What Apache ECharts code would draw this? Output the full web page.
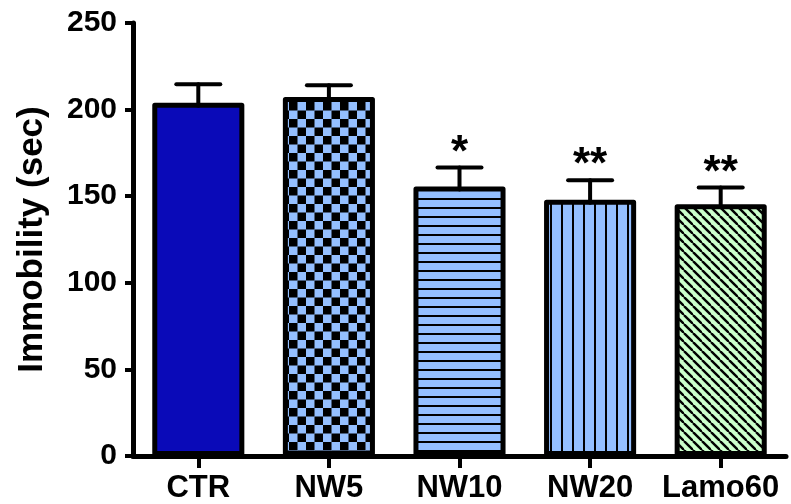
<!DOCTYPE html>
<html>
<head>
<meta charset="utf-8">
<script src="https://cdn.jsdelivr.net/npm/echarts@6/dist/echarts.min.js"></script>
<style>
html,body{margin:0;padding:0;background:#fff;}
#c{width:791px;height:504px;}
</style>
</head>
<body>
<div id="c"></div>
<script>
const categories = ['CTR', 'NW5', 'NW10', 'NW20', 'Lamo60'];
const means = [204, 207.3, 155.6, 147.9, 145.4];
const sems = [10.7, 6.7, 10.9, 11.3, 9.6];
const stars = ['', '', '*', '**', '**'];
const yMin = 0, yMax = 250, yInterval = 50;

const LB = '#94bfff';
const GREEN = '#ccffcc';
const FONT = '"Liberation Sans", Arial, sans-serif';

function mk(w, h, draw) {
  const c = document.createElement('canvas');
  c.width = w; c.height = h;
  const g = c.getContext('2d');
  draw(g, w, h);
  return c;
}
const checker = mk(17, 17, (g, w, h) => {
  g.fillStyle = LB; g.fillRect(0, 0, w, h);
  g.fillStyle = '#000';
  g.fillRect(0, 0, 8.5, 8.5);
  g.fillRect(8.5, 8.5, 8.5, 8.5);
});
const hlines = mk(9, 9, (g, w, h) => {
  g.fillStyle = LB; g.fillRect(0, 0, w, h);
  g.fillStyle = '#000'; g.fillRect(0, 0, w, 2);
});
const vlines = mk(11, 11, (g, w, h) => {
  g.fillStyle = LB; g.fillRect(0, 0, w, h);
  g.fillStyle = '#000'; g.fillRect(0, 0, 2, h);
});
const diag = mk(9, 9, (g, s) => {
  g.fillStyle = GREEN; g.fillRect(0, 0, s, s);
  g.strokeStyle = '#000'; g.lineWidth = 2.4;
  for (let k = -1; k <= 1; k++) {
    g.beginPath(); g.moveTo(k * s, 0); g.lineTo(k * s + s, s); g.stroke();
  }
});
const fills = ['#0a0ab8', {image: checker, repeat: 'repeat'}, {image: hlines, repeat: 'repeat'},
  {image: vlines, repeat: 'repeat'}, {image: diag, repeat: 'repeat'}];

const chart = echarts.init(document.getElementById('c'), null, {renderer: 'canvas'});
chart.setOption({
  animation: false,
  backgroundColor: '#fff',
  grid: {left: 133, right: 5, top: 23, bottom: 46, containLabel: false},
  xAxis: {
    type: 'category',
    data: categories,
    axisLine: {lineStyle: {color: '#000', width: 5}},
    axisTick: {show: true, alignWithLabel: true, length: 12, lineStyle: {color: '#000', width: 4}},
    axisLabel: {color: '#000', fontWeight: 'bold', fontSize: 31, fontFamily: FONT, margin: 17, interval: 0}
  },
  yAxis: {
    type: 'value',
    min: yMin, max: yMax, interval: yInterval,
    name: 'Immobility (sec)',
    nameLocation: 'middle',
    nameGap: 83,
    nameTextStyle: {color: '#000', fontWeight: 'bold', fontSize: 35, fontFamily: FONT},
    splitLine: {show: false},
    axisLine: {show: true, lineStyle: {color: '#000', width: 5}},
    axisTick: {show: true, length: 8, lineStyle: {color: '#000', width: 4}},
    axisLabel: {color: '#000', fontWeight: 'bold', fontSize: 30, fontFamily: FONT, margin: 16}
  },
  series: [
    {
      type: 'bar',
      barWidth: '70.5%',
      data: means.map((v, i) => ({value: v, itemStyle: {color: fills[i]}})),
      itemStyle: {borderColor: '#000', borderWidth: 5, borderJoin: 'round'},
      z: 2
    },
    {
      type: 'custom',
      data: means.map((v, i) => [i, v, sems[i]]),
      encode: {x: 0, y: 1},
      z: 3,
      renderItem: function (params, api) {
        const i = api.value(0), m = api.value(1), s = api.value(2);
        const p0 = api.coord([i, m]);
        const p1 = api.coord([i, m + s]);
        const half = 22;
        const st = {stroke: '#000', lineWidth: 4, lineCap: 'round'};
        return {
          type: 'group',
          children: [
            {type: 'line', shape: {x1: p0[0], y1: p0[1] + 3, x2: p1[0], y2: p1[1]}, style: st},
            {type: 'line', shape: {x1: p1[0] - half, y1: p1[1], x2: p1[0] + half, y2: p1[1]}, style: st},
            {type: 'text', style: {text: stars[params.dataIndex], x: p1[0], y: p1[1] - 14,
              align: 'center', verticalAlign: 'middle', fill: '#000',
              font: 'bold 44px ' + FONT}}
          ]
        };
      }
    }
  ]
});
</script>
</body>
</html>
